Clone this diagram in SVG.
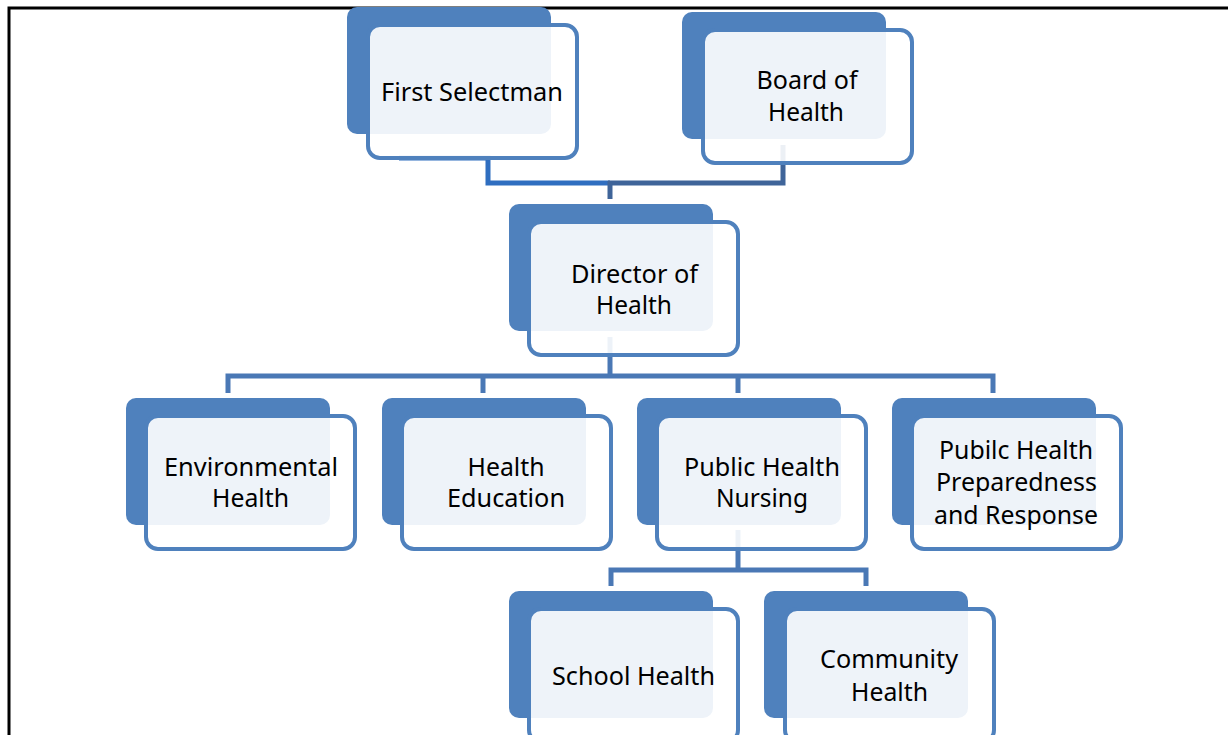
<svg xmlns="http://www.w3.org/2000/svg" width="1228" height="735" viewBox="0 0 1228 735">
<style>
.back{fill:#4F81BD;}
.front{fill:#FFFFFF;fill-opacity:0.9;stroke:#4F81BD;stroke-width:4;}
.lbl{font-family:"Noto Sans","Liberation Sans",sans-serif;font-size:25px;fill:#000;text-anchor:middle;}
.con{fill:none;stroke-width:5;stroke-linejoin:miter;}
.c1{stroke:#2F6EC0;}
.c2{stroke:#3F6499;}
.c3{stroke:#4A78B5;}
.frame{stroke:#000;stroke-width:3;fill:none;}
</style>
<path class="frame" d="M9,735 V8 H1228"/>
<g id="connectors">
<path class="con c1" d="M399,158 H488 V183 H610"/>
<path class="con c2" d="M608,183 H783 V145"/>
<path class="con c2" d="M610,181 V199"/>
<path class="con c3" d="M228,393 V376 H993 V393"/>
<path class="con c3" d="M483,376 V393"/>
<path class="con c3" d="M738,376 V393"/>
<path class="con c3" d="M610,337 V376"/>
<path class="con c3" d="M611,586 V570 H866 V586"/>
<path class="con c3" d="M738,530 V570"/>
</g>
<g id="node-first-selectman">
<rect class="back" x="347" y="7" width="204" height="127" rx="10"/>
<rect class="front" x="368" y="25" width="209" height="133" rx="12"/>
<text class="lbl" x="472" y="101" textLength="182" lengthAdjust="spacingAndGlyphs">First Selectman</text>
</g>
<g id="node-board-of-health">
<rect class="back" x="682" y="12" width="204" height="127" rx="10"/>
<rect class="front" x="703" y="30" width="209" height="133" rx="12"/>
<text class="lbl" x="807" y="89" textLength="101" lengthAdjust="spacingAndGlyphs">Board of</text>
<text class="lbl" x="806" y="121" textLength="76" lengthAdjust="spacingAndGlyphs">Health</text>
</g>
<g id="node-director">
<rect class="back" x="509" y="204" width="204" height="127" rx="10"/>
<rect class="front" x="529" y="222" width="209" height="133" rx="12"/>
<text class="lbl" x="634.5" y="283" textLength="127" lengthAdjust="spacingAndGlyphs">Director of</text>
<text class="lbl" x="634" y="314" textLength="76" lengthAdjust="spacingAndGlyphs">Health</text>
</g>
<g id="node-environmental">
<rect class="back" x="126" y="398" width="204" height="127" rx="10"/>
<rect class="front" x="146" y="416" width="209" height="133" rx="12"/>
<text class="lbl" x="251" y="476" textLength="174" lengthAdjust="spacingAndGlyphs">Environmental</text>
<text class="lbl" x="250.5" y="507" textLength="77" lengthAdjust="spacingAndGlyphs">Health</text>
</g>
<g id="node-health-education">
<rect class="back" x="382" y="398" width="204" height="127" rx="10"/>
<rect class="front" x="402" y="416" width="209" height="133" rx="12"/>
<text class="lbl" x="506" y="476" textLength="77" lengthAdjust="spacingAndGlyphs">Health</text>
<text class="lbl" x="506" y="507" textLength="118" lengthAdjust="spacingAndGlyphs">Education</text>
</g>
<g id="node-public-health-nursing">
<rect class="back" x="637" y="398" width="204" height="127" rx="10"/>
<rect class="front" x="657" y="416" width="209" height="133" rx="12"/>
<text class="lbl" x="762" y="476" textLength="156" lengthAdjust="spacingAndGlyphs">Public Health</text>
<text class="lbl" x="762" y="507" textLength="92" lengthAdjust="spacingAndGlyphs">Nursing</text>
</g>
<g id="node-preparedness">
<rect class="back" x="892" y="398" width="204" height="127" rx="10"/>
<rect class="front" x="912" y="416" width="209" height="133" rx="12"/>
<text class="lbl" x="1016" y="459" textLength="154" lengthAdjust="spacingAndGlyphs">Pubilc Health</text>
<text class="lbl" x="1016.5" y="491" textLength="161" lengthAdjust="spacingAndGlyphs">Preparedness</text>
<text class="lbl" x="1016" y="524" textLength="164" lengthAdjust="spacingAndGlyphs">and Response</text>
</g>
<g id="node-school-health">
<rect class="back" x="509" y="591" width="204" height="127" rx="10"/>
<rect class="front" x="529" y="609" width="209" height="133" rx="12"/>
<text class="lbl" x="633.5" y="685" textLength="163" lengthAdjust="spacingAndGlyphs">School Health</text>
</g>
<g id="node-community-health">
<rect class="back" x="764" y="591" width="204" height="127" rx="10"/>
<rect class="front" x="785" y="609" width="209" height="133" rx="12"/>
<text class="lbl" x="889" y="668" textLength="138" lengthAdjust="spacingAndGlyphs">Community</text>
<text class="lbl" x="889.5" y="701" textLength="77" lengthAdjust="spacingAndGlyphs">Health</text>
</g>
</svg>
